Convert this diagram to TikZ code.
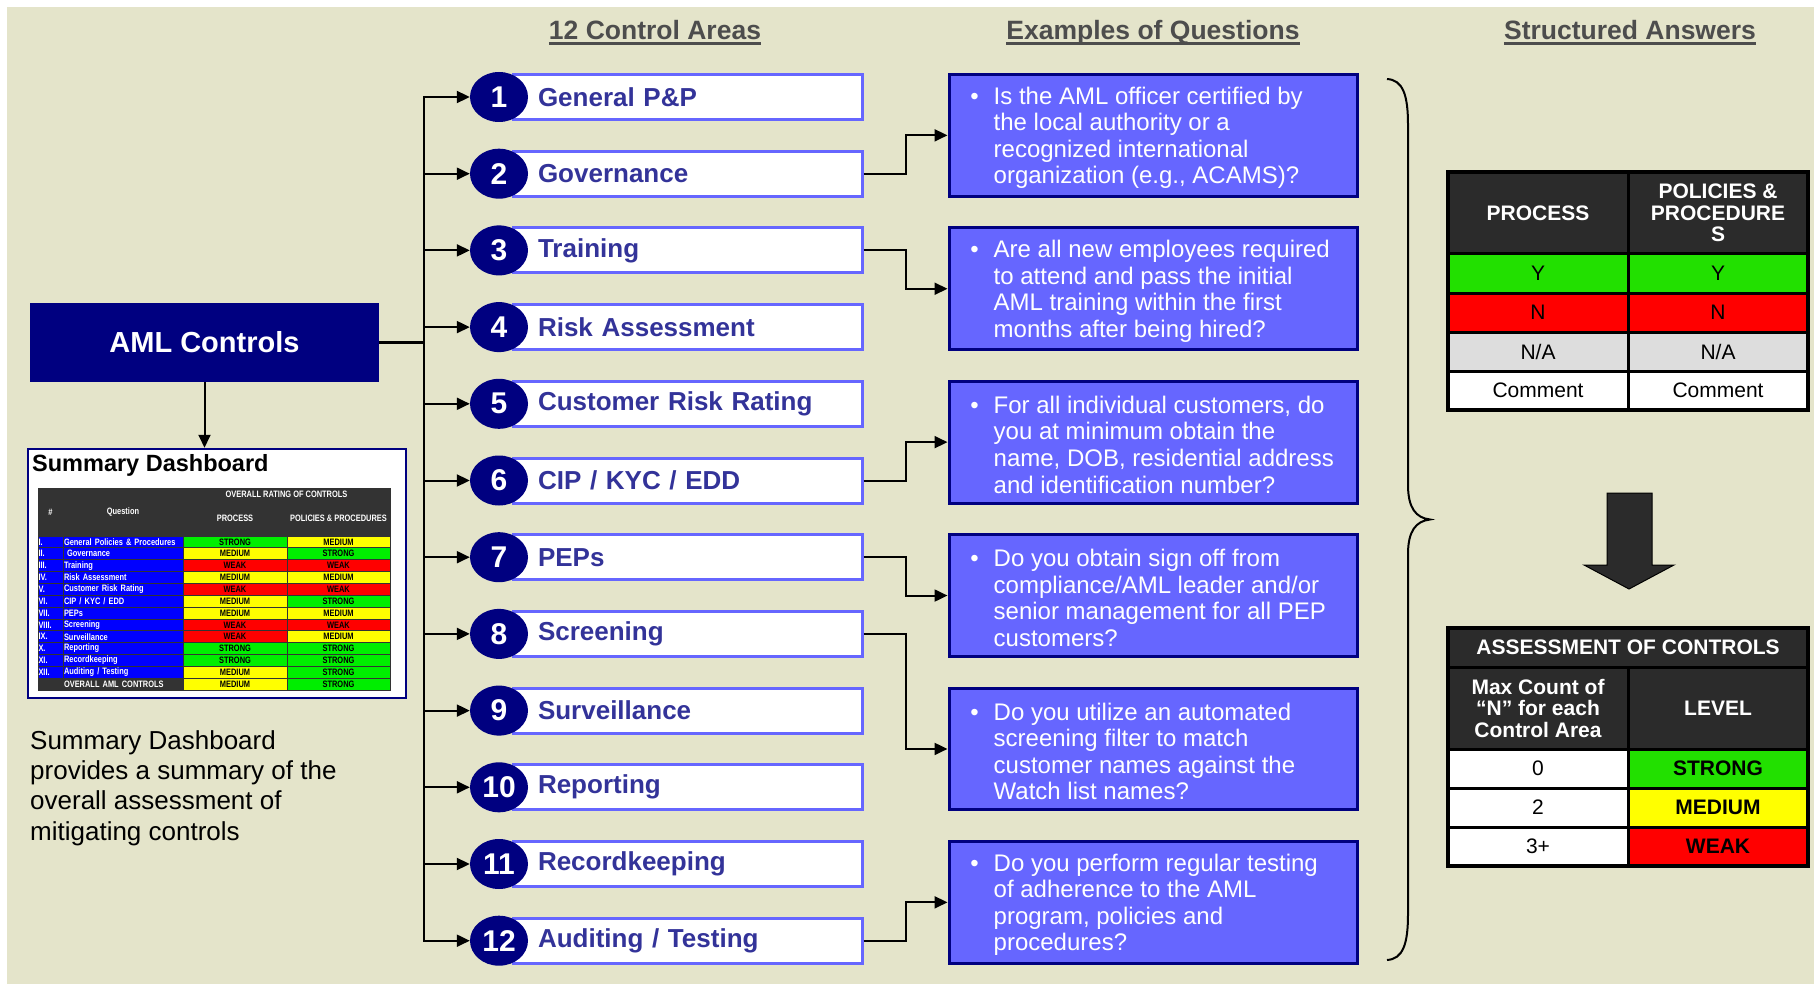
\documentclass[tikz,border=0pt]{standalone}
\usepackage{fontspec}
\setmainfont{Liberation Sans}
\newfontfamily\narrowfont[FakeStretch=0.8]{Liberation Sans}
\usetikzlibrary{arrows.meta,calc,shapes.geometric}
\definecolor{bgc}{HTML}{E4E4CA}
\definecolor{navy}{HTML}{000080}
\definecolor{lblue}{HTML}{6666FF}
\definecolor{slate}{HTML}{333399}
\definecolor{hdgray}{HTML}{4D4D4D}
\definecolor{dark}{HTML}{2B2B2B}
\definecolor{tgreen}{HTML}{22E000}
\definecolor{tred}{HTML}{FF0000}
\definecolor{tyellow}{HTML}{FFFF00}
\definecolor{tgray}{HTML}{DDDDDD}
\definecolor{mgreen}{HTML}{00EE00}
\definecolor{mblue}{HTML}{0000FF}
\definecolor{mdark}{HTML}{333333}
\begin{document}
\begin{tikzpicture}[x=1pt,y=-1pt,
  arr/.style={-{Triangle[length=13pt,width=12pt]}, line width=2pt, black},
  hdr/.style={font=\fontsize{26.5}{30}\selectfont\bfseries, text=hdgray, inner sep=0pt, anchor=base},
  cbox/.style={draw=lblue, line width=3pt, fill=white, minimum width=349pt, minimum height=45pt, inner xsep=25pt, inner ysep=0pt, text width=299pt, align=left, font=\fontsize{26}{28}\selectfont\bfseries, text=slate},
  cnum/.style={ellipse, fill=navy, minimum width=58pt, minimum height=50pt, inner sep=0pt, text=white, font=\fontsize{30}{30}\selectfont\bfseries},
  qbox/.style={draw=navy, line width=3pt, fill=lblue, minimum width=408pt, minimum height=121.7pt, inner sep=0pt},
  qtext/.style={anchor=west, align=left, text=white, font=\fontsize{24}{26.6}\selectfont, inner sep=0pt, yshift=-2.5pt},
  tcell/.style={draw=black, line width=3pt, minimum width=180pt, minimum height=39pt, inner sep=0pt, align=center, font=\fontsize{21}{21.5}\selectfont},
  thead/.style={tcell, fill=dark, text=white, font=\fontsize{21}{21.5}\selectfont\bfseries},
  mcell/.style={draw=mdark, line width=0.8pt, inner sep=0pt, minimum height=11.85pt, font=\narrowfont\fontsize{9.3}{10}\selectfont\bfseries},
  mhead/.style={mcell, fill=mdark, text=white, align=center},
]
\useasboundingbox (0,0) rectangle (1814,984);
\fill[white] (0,0) rectangle (1814,984);
\fill[bgc] (7,7) rectangle (1814,984);

% headers
\node[hdr] (h1) at (655,39.5) {12 Control Areas};
\draw[hdgray, line width=2.5pt] ([yshift=-4pt]h1.base west) -- ([yshift=-4pt]h1.base east);
\node[hdr] (h2) at (1153,39.5) {Examples of Questions};
\draw[hdgray, line width=2.5pt] ([yshift=-4pt]h2.base west) -- ([yshift=-4pt]h2.base east);
\node[hdr] (h3) at (1630,39.5) {Structured Answers};
\draw[hdgray, line width=2.5pt] ([yshift=-4pt]h3.base west) -- ([yshift=-4pt]h3.base east);

% AML controls
\node[fill=navy, minimum width=349pt, minimum height=79pt, inner sep=0pt, text=white, font=\fontsize{29}{30}\selectfont\bfseries] (aml) at (204.5,342.5) {AML Controls};

% control areas
\foreach \i/\t in {1/General P\&P, 2/Governance, 3/Training, 4/Risk Assessment, 5/Customer Risk Rating, 6/{CIP / KYC / EDD}, 7/PEPs, 8/Screening, 9/Surveillance, 10/Reporting, 11/Recordkeeping, 12/{Auditing / Testing}}{
  \pgfmathsetmacro{\yy}{97+(\i-1)*76.7}
  \coordinate (bus\i) at (424,\yy);
  \node[cbox] (cbox\i) at (687.5,\yy) {\t};
  \node[cnum] (cnum\i) at (499,\yy) {\i};
  \draw[arr] (bus\i) -- (cnum\i.west);
}
\coordinate (busaml) at (424,342.5);
\draw[line width=2.5pt, line cap=rect] (bus1) -- (bus12);
\draw[line width=3pt] (aml.east) -- (busaml);

% question boxes
\foreach \k in {1,...,6}{
  \pgfmathsetmacro{\yy}{97+(2*\k-1.5)*76.7}
  \node[qbox] (q\k) at (1153,\yy) {};
}
\node[qtext] (qt1) at ($(q1.west)+(46,0)$) {\llap{\textbullet\hspace{15pt}}Is the AML officer certified by\\the local authority or a\\recognized international\\organization (e.g., ACAMS)?};
\node[qtext] (qt2) at ($(q2.west)+(46,0)$) {\llap{\textbullet\hspace{15pt}}Are all new employees required\\to attend and pass the initial\\AML training within the first\\months after being hired?};
\node[qtext] (qt3) at ($(q3.west)+(46,0)$) {\llap{\textbullet\hspace{15pt}}For all individual customers, do\\you at minimum obtain the\\name, DOB, residential address\\and identification number?};
\node[qtext] (qt4) at ($(q4.west)+(46,0)$) {\llap{\textbullet\hspace{15pt}}Do you obtain sign off from\\compliance/AML leader and/or\\senior management for all PEP\\customers?};
\node[qtext] (qt5) at ($(q5.west)+(46,0)$) {\llap{\textbullet\hspace{15pt}}Do you utilize an automated\\screening filter to match\\customer names against the\\Watch list names?};
\node[qtext] (qt6) at ($(q6.west)+(46,0)$) {\llap{\textbullet\hspace{15pt}}Do you perform regular testing\\of adherence to the AML\\program, policies and\\procedures?};

\draw[arr] (cbox2.east) -- ++(42,0) |- (q1.west);
\draw[arr] (cbox3.east) -- ++(42,0) |- (q2.west);
\draw[arr] (cbox6.east) -- ++(42,0) |- (q3.west);
\draw[arr] (cbox7.east) -- ++(42,0) |- (q4.west);
\draw[arr] (cbox8.east) -- ++(42,0) |- (q5.west);
\draw[arr] (cbox12.east) -- ++(42,0) |- (q6.west);

% brace
\draw[line width=2pt] (1387,79) .. controls (1403,80) and (1408,95) .. (1408,125) -- (1408,485) .. controls (1408,508) and (1416,518) .. (1430,519.5) .. controls (1416,521) and (1408,531) .. (1408,554) -- (1408,914) .. controls (1408,944) and (1403,959) .. (1387,960);

% summary dashboard
\node[draw=navy, line width=2.5pt, fill=white, minimum width=378pt, minimum height=249pt, inner sep=0pt] (sd) at (217,573.5) {};
\draw[arr] (aml.south) -- (aml.south |- sd.north);
\node[anchor=west, inner sep=0pt, font=\fontsize{23.5}{24}\selectfont\bfseries] (sdt) at (32,465) {Summary Dashboard};

% mini table header
\node[mhead, minimum width=25pt, minimum height=48pt] (mh0) at (50.5,512) {\#};
\node[mhead, minimum width=120pt, minimum height=48pt] (mh1) at (123,512) {Question};
\node[mhead, minimum width=207pt, minimum height=12pt] (mh2) at (286.5,494) {OVERALL RATING OF CONTROLS};
\node[mhead, minimum width=104pt, minimum height=36pt] (mh3) at (235,518) {PROCESS};
\node[mhead, minimum width=103pt, minimum height=36pt] (mh4) at (338.5,518) {POLICIES \& PROCEDURES};

\foreach \r/\n/\q/\pc/\pt/\qc/\qt in {
 1/I./General Policies \& Procedures/mgreen/STRONG/tyellow/MEDIUM,
 2/II./\ Governance/tyellow/MEDIUM/mgreen/STRONG,
 3/III./Training/tred/WEAK/tred/WEAK,
 4/IV./Risk Assessment/tyellow/MEDIUM/tyellow/MEDIUM,
 5/V./Customer Risk Rating/tred/WEAK/tred/WEAK,
 6/VI./{CIP / KYC / EDD}/tyellow/MEDIUM/mgreen/STRONG,
 7/VII./PEPs/tyellow/MEDIUM/tyellow/MEDIUM,
 8/VIII./Screening/tred/WEAK/tred/WEAK,
 9/IX./Surveillance/tred/WEAK/tyellow/MEDIUM,
 10/X./Reporting/mgreen/STRONG/mgreen/STRONG,
 11/XI./Recordkeeping/mgreen/STRONG/mgreen/STRONG,
 12/XII./{Auditing / Testing}/tyellow/MEDIUM/mgreen/STRONG}{
  \pgfmathsetmacro{\yy}{536+(\r-0.5)*11.85}
  \node[mcell, fill=mblue, text=white, minimum width=25pt, text width=24pt, inner xsep=0.5pt, align=left] (mn\r) at (50.5,\yy) {\n};
  \node[mcell, fill=mblue, text=white, minimum width=120pt, text width=118pt, inner xsep=1pt, align=left] (mq\r) at (123,\yy) {\q};
  \node[mcell, fill=\pc, minimum width=104pt] (mp\r) at (235,\yy) {\pt};
  \node[mcell, fill=\qc, minimum width=103pt] (mpp\r) at (338.5,\yy) {\qt};
}
\node[mcell, fill=mdark, minimum width=25pt] (mn13) at (50.5,684.1) {};
\node[mcell, fill=mdark, text=white, minimum width=120pt, text width=118pt, inner xsep=1pt, align=left] (mq13) at (123,684.1) {OVERALL AML CONTROLS};
\node[mcell, fill=tyellow, minimum width=104pt] (mp13) at (235,684.1) {MEDIUM};
\node[mcell, fill=mgreen, minimum width=103pt] (mpp13) at (338.5,684.1) {STRONG};

\node[anchor=north west, inner sep=0pt, align=left, font=\fontsize{26}{30.2}\selectfont] (sdtext) at (30,730.5) {Summary Dashboard\\provides a summary of the\\overall assessment of\\mitigating controls};

% structured answers table 1
\node[thead, minimum height=82pt] (t1h1) at (1538,213) {PROCESS};
\node[thead, minimum height=82pt] (t1h2) at (1718,213) {POLICIES \&\\PROCEDURE\\S};
\node[tcell, fill=tgreen] (t1y1) at (1538,273.5) {Y};
\node[tcell, fill=tgreen] (t1y2) at (1718,273.5) {Y};
\node[tcell, fill=tred] (t1n1) at (1538,312.5) {N};
\node[tcell, fill=tred] (t1n2) at (1718,312.5) {N};
\node[tcell, fill=tgray] (t1a1) at (1538,351.5) {N/A};
\node[tcell, fill=tgray] (t1a2) at (1718,351.5) {N/A};
\node[tcell, fill=white] (t1c1) at (1538,390.5) {Comment};
\node[tcell, fill=white] (t1c2) at (1718,390.5) {Comment};
\draw[line width=4pt] (1448,172) rectangle (1808,410);

% block arrow
\filldraw[fill=dark, draw=black, line width=1pt] (1607,493) -- (1652,493) -- (1652,565) -- (1674,565) -- (1629,589) -- (1584,565) -- (1607,565) -- cycle;

% table 2
\node[thead, minimum width=360pt] (t2t) at (1628,647.5) {ASSESSMENT OF CONTROLS};
\node[thead, minimum height=82pt] (t2h1) at (1538,708) {Max Count of\\“N” for each\\Control Area};
\node[thead, minimum height=82pt] (t2h2) at (1718,708) {LEVEL};
\node[tcell, fill=white] (t2r1a) at (1538,768.5) {0};
\node[tcell, fill=tgreen, font=\fontsize{21}{21.5}\selectfont\bfseries] (t2r1b) at (1718,768.5) {STRONG};
\node[tcell, fill=white] (t2r2a) at (1538,807.5) {2};
\node[tcell, fill=tyellow, font=\fontsize{21}{21.5}\selectfont\bfseries] (t2r2b) at (1718,807.5) {MEDIUM};
\node[tcell, fill=white] (t2r3a) at (1538,846.5) {3+};
\node[tcell, fill=tred, font=\fontsize{21}{21.5}\selectfont\bfseries] (t2r3b) at (1718,846.5) {WEAK};
\draw[line width=4pt] (1448,628) rectangle (1808,866);
\end{tikzpicture}
\end{document}
